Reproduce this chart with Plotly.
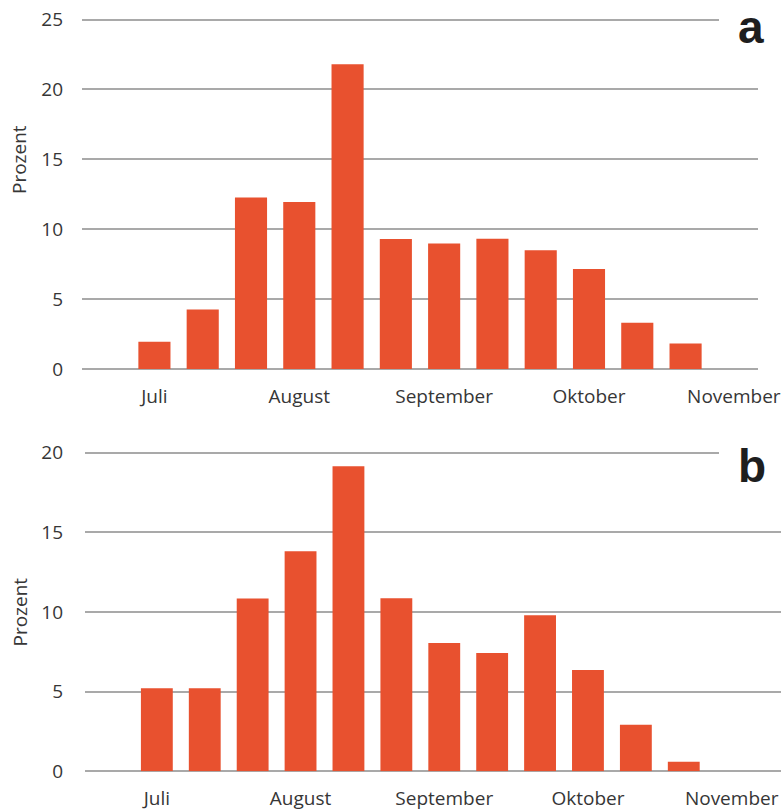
import plotly.graph_objects as go

W, H = 781, 812

# Data: ten-day periods (Dekaden) from July to October
dekaden = ["Juli I", "Juli II", "Juli III",
           "August I", "August II", "August III",
           "September I", "September II", "September III",
           "Oktober I", "Oktober II", "Oktober III"]
all_categories = dekaden + ["November I"]
values_a = [1.95, 4.26, 12.26, 11.95, 21.8, 9.3, 8.98, 9.31, 8.5, 7.16, 3.31, 1.83]
values_b = [5.21, 5.21, 10.84, 13.81, 19.15, 10.86, 8.05, 7.43, 9.79, 6.36, 2.93, 0.6]
tick_cats = ["Juli I", "August I", "September I", "Oktober I", "November I"]
tick_text = ["Juli", "August", "September", "Oktober", "November"]
y_ticks_a = [0, 5, 10, 15, 20, 25]
y_ticks_b = [0, 5, 10, 15, 20]

BAR = "#E8512F"
GRID = "#A9A9A9"
TXT = "#363636"
FONT = "Open Sans"
FS = 19

def px(x):
    return x / W

def py(y):
    return 1 - y / H

fig = go.Figure()
fig.add_trace(go.Bar(x=dekaden, y=values_a, marker=dict(color=BAR, line=dict(width=0)),
                     xaxis="x", yaxis="y", showlegend=False))
fig.add_trace(go.Bar(x=dekaden, y=values_b, marker=dict(color=BAR, line=dict(width=0)),
                     xaxis="x2", yaxis="y2", showlegend=False))

xcommon = dict(type="category", categoryorder="array", categoryarray=all_categories,
               tickmode="array", tickvals=tick_cats, ticktext=tick_text,
               showgrid=False, zeroline=False, showline=False, ticks="", automargin=False,
               tickfont=dict(family=FONT, size=FS, color=TXT))
ycommon = dict(showgrid=True, gridcolor=GRID, gridwidth=1.5, zeroline=True,
               zerolinecolor=GRID, zerolinewidth=1.5, showline=False, ticks="", automargin=False,
               tickfont=dict(family=FONT, size=FS, color=TXT))

# pixel scales: a -> 14 px/unit, b -> 15.93 px/unit; ranges padded slightly so top gridline shows
fig.update_layout(
    width=W, height=H,
    margin=dict(l=0, r=0, t=0, b=0, autoexpand=False),
    paper_bgcolor="white", plot_bgcolor="white",
    bargap=0.335,
    xaxis=dict(**xcommon, domain=[px(82), px(758)], range=[-1.5, 12.5], anchor="y",
               ticklabelstandoff=14),
    yaxis=dict(**ycommon, domain=[py(369), py(19.5 - 0.1 * 14)], range=[0, 25.1],
               tickvals=y_ticks_a, anchor="x", ticklabelstandoff=18),
    xaxis2=dict(**xcommon, domain=[px(85), 1.0], range=[-1.5, 13.03], anchor="y2",
                ticklabelstandoff=14),
    yaxis2=dict(**ycommon, domain=[py(771.3), py(452.7 - 0.1 * 15.93)], range=[0, 20.1],
                tickvals=y_ticks_b, anchor="x2", ticklabelstandoff=21),
)

# white masks clipping the top gridlines under the panel letters
for ytop in (19.5, 452.7):
    fig.add_shape(type="rect", xref="paper", yref="paper",
                  x0=px(719), x1=1.0, y0=py(ytop + 4), y1=py(ytop - 4),
                  fillcolor="white", line=dict(width=0), layer="above")

# panel letters
fig.add_annotation(text="<b>a</b>", xref="paper", yref="paper", x=px(751), y=py(27),
                   xanchor="center", yanchor="middle", showarrow=False, borderpad=0,
                   font=dict(family="Liberation Sans", size=46, color="#1E1E1E"))
fig.add_annotation(text="<b>b</b>", xref="paper", yref="paper", x=px(752), y=py(466),
                   xanchor="center", yanchor="middle", showarrow=False, borderpad=0,
                   font=dict(family="Liberation Sans", size=46, color="#1E1E1E"))

# y-axis titles
for yc in (160, 612.5):
    fig.add_annotation(text="Prozent", xref="paper", yref="paper", x=px(19), y=py(yc),
                       xanchor="center", yanchor="middle", textangle=-90, showarrow=False,
                       font=dict(family=FONT, size=FS, color=TXT))

fig.write_html("out.html", config={"displayModeBar": False},
               post_script="document.body.style.margin='0';document.body.style.overflow='hidden';")
